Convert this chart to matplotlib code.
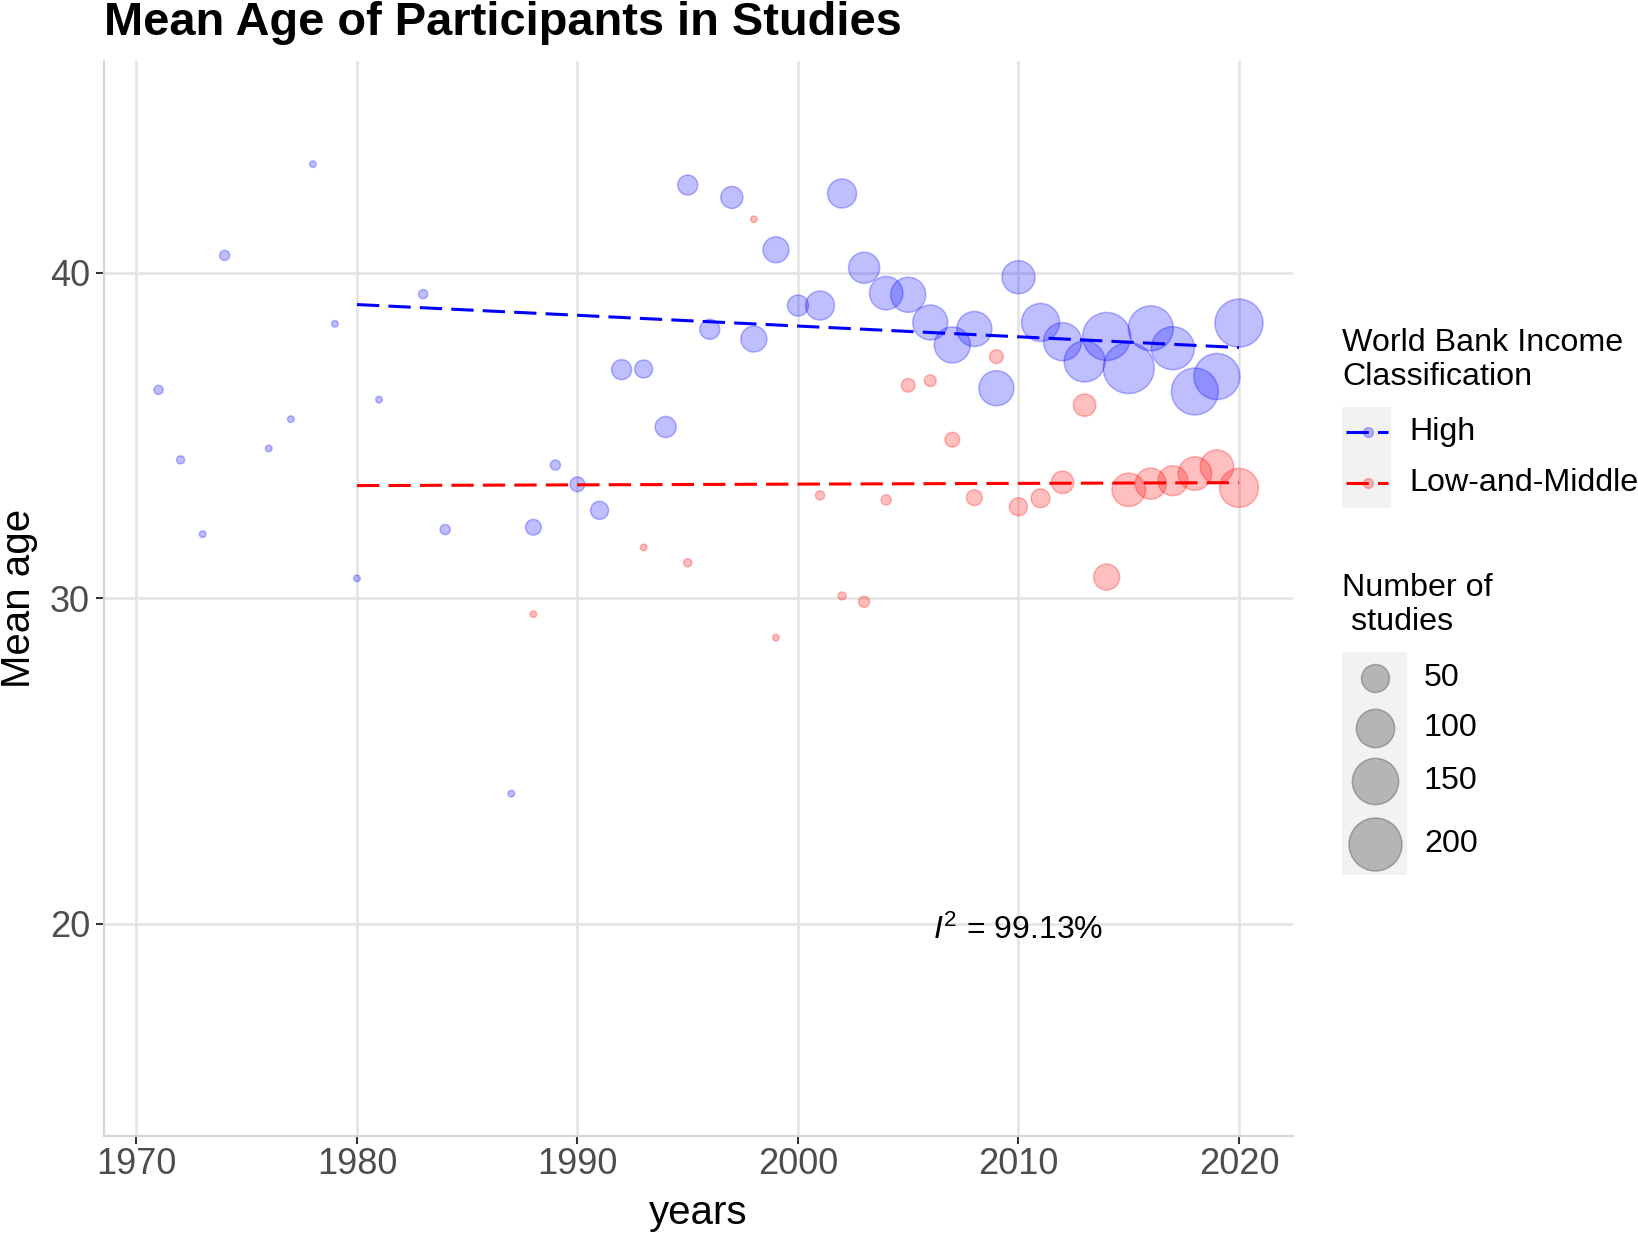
import numpy as np
import matplotlib
matplotlib.use("Agg")
import matplotlib.pyplot as plt
from matplotlib.lines import Line2D
from matplotlib.patches import Rectangle

plt.rcParams["font.family"] = ["Liberation Sans", "DejaVu Sans"]
plt.rcParams["mathtext.fontset"] = "custom"
plt.rcParams["mathtext.rm"] = "Liberation Sans"
plt.rcParams["mathtext.it"] = "Liberation Sans:italic"

# High income studies: year, mean age, number of studies
high_years = [1971, 1972, 1973, 1974, 1976, 1977, 1978, 1979, 1980, 1981,
              1983, 1984, 1987, 1988, 1989, 1990, 1991, 1992, 1993, 1994,
              1995, 1996, 1997, 1998, 1999, 2000, 2001, 2002, 2003, 2004,
              2005, 2006, 2007, 2008, 2009, 2010, 2011, 2012, 2013, 2014,
              2015, 2016, 2017, 2018, 2019, 2020]
high_age = [36.40, 34.25, 31.97, 40.53, 34.60, 35.50, 43.33, 38.43, 30.61, 36.10,
            39.34, 32.11, 24.00, 32.18, 34.09, 33.50, 32.70, 37.02, 37.04, 35.26,
            42.69, 38.26, 42.31, 37.96, 40.70, 38.99, 38.99, 42.43, 40.15, 39.37,
            39.32, 38.47, 37.78, 38.27, 36.45, 39.86, 38.47, 37.88, 37.27, 38.04,
            37.07, 38.29, 37.68, 36.35, 36.81, 38.45]
high_n = [3, 2, 1, 4, 1, 1, 1, 1, 1, 1,
          3, 4, 1, 13, 4, 11, 18, 23, 18, 26,
          23, 23, 29, 42, 42, 26, 54, 54, 63, 74,
          82, 82, 87, 82, 82, 72, 98, 98, 115, 162,
          184, 141, 128, 154, 148, 162]

# Low-and-middle income studies
low_years = [1988, 1993, 1995, 1998, 1999, 2001, 2002, 2003, 2004, 2005,
             2006, 2007, 2008, 2009, 2010, 2011, 2012, 2013, 2014, 2015,
             2016, 2017, 2018, 2019, 2020]
low_age = [29.51, 31.56, 31.09, 41.64, 28.79, 33.16, 30.07, 29.89, 33.02, 36.54,
           36.68, 34.87, 33.09, 37.42, 32.81, 33.07, 33.56, 35.93, 30.65, 33.33,
           33.52, 33.61, 33.83, 34.04, 33.39]
low_n = [1, 1, 2, 1, 1, 3, 2, 5, 4, 9,
         6, 11, 13, 9, 18, 20, 30, 30, 42, 74,
         63, 58, 74, 74, 103]

# fitted meta-regression lines (end points)
trend_years = [1980, 2020]
high_trend = [39.02, 37.70]
low_trend = [33.46, 33.55]

size_breaks = [50, 100, 150, 200]
i2_text = r"$I^2$ = 99.13%"

W, H, DPI = 1638, 1234, 100
BLUE = (0.0, 0.0, 1.0)
RED = (1.0, 0.0, 0.0)
DASHES = (7.3, 3.0)
LEG_FS = 23.2


def marker_area(n):
    """number of studies -> scatter area (pt^2), diameter grows with sqrt(n)"""
    d_px = 3 + 3.54 * np.sqrt(np.asarray(n, dtype=float))
    return (d_px * 72 / DPI) ** 2


def fx(x):
    return x / W


def fy(y):
    return 1 - y / H


fig = plt.figure(figsize=(W / DPI, H / DPI), dpi=DPI)
ax = fig.add_axes([fx(104.5), fy(1135.5), fx(1293) - fx(104.5), fy(61) - fy(1135.5)])

for yrs, age, n, col in [(high_years, high_age, high_n, BLUE), (low_years, low_age, low_n, RED)]:
    ax.scatter(yrs, age, s=marker_area(n), facecolor=(*col, 0.25),
               edgecolor=(*col, 0.28), linewidth=1.1, zorder=3)

ax.plot(trend_years, high_trend, color=BLUE, lw=2.2, dashes=DASHES, zorder=4)
ax.plot(trend_years, low_trend, color=RED, lw=2.2, dashes=DASHES, zorder=4)

ax.text(2010, 19.8, i2_text, ha="center", va="center", fontsize=23, zorder=5)

ax.set_xlim(1968.55, 2022.45)
ax.set_ylim(13.5, 46.5)
ax.set_xticks([1970, 1980, 1990, 2000, 2010, 2020])
ax.set_yticks([20, 30, 40])
ax.grid(True, color="#E3E3E3", lw=1.8, zorder=0)
ax.set_axisbelow(True)
for side in ["top", "right"]:
    ax.spines[side].set_visible(False)
for side in ["left", "bottom"]:
    ax.spines[side].set_color("#D6D6D6")
    ax.spines[side].set_linewidth(1.6)
ax.tick_params(axis="both", length=5.5, width=1.5, color="#333333",
               labelcolor="#4D4D4D", labelsize=26)
ax.tick_params(axis="x", pad=3)
ax.tick_params(axis="y", pad=5)

fig.text(fx(104), fy(35), "Mean Age of Participants in Studies", fontsize=33.8,
         fontweight="bold", ha="left", va="baseline")
fig.text(fx(19), fy(598), "Mean age", rotation=90, fontsize=29, ha="center", va="center")
fig.text(fx(698), fy(1213), "years", fontsize=29, ha="center", va="center")

# colour legend
fig.text(fx(1342), fy(343), "World Bank Income", fontsize=LEG_FS, ha="left", va="center")
fig.text(fx(1342), fy(377), "Classification", fontsize=LEG_FS, ha="left", va="center")
fig.add_artist(Rectangle((fx(1342), fy(508)), fx(1391) - fx(1342), fy(407) - fy(508),
                         transform=fig.transFigure, facecolor="#F2F2F2", edgecolor="none"))
for yc, label, col in [(432, "High", BLUE), (483, "Low-and-Middle", RED)]:
    fig.add_artist(Line2D([fx(1346), fx(1388)], [fy(yc), fy(yc)], transform=fig.transFigure,
                          color=col, lw=2.2, dashes=DASHES))
    fig.add_artist(Line2D([fx(1368)], [fy(yc)], transform=fig.transFigure, marker="o",
                          markersize=7, markerfacecolor=(*col, 0.25),
                          markeredgecolor=(*col, 0.28), markeredgewidth=1.1, linestyle="none"))
    fig.text(fx(1409), fy(yc), label, fontsize=LEG_FS, ha="left", va="center")

# size legend
fig.text(fx(1342), fy(588), "Number of", fontsize=LEG_FS, ha="left", va="center")
fig.text(fx(1342), fy(622), " studies", fontsize=LEG_FS, ha="left", va="center")
fig.add_artist(Rectangle((fx(1342), fy(875)), fx(1407) - fx(1342), fy(652) - fy(875),
                         transform=fig.transFigure, facecolor="#F2F2F2", edgecolor="none"))
size_rows = [678, 728, 781, 844]
for yc, val in zip(size_rows, size_breaks):
    d_pt = np.sqrt(marker_area(val))
    fig.add_artist(Line2D([fx(1375)], [fy(yc)], transform=fig.transFigure, marker="o",
                          markersize=d_pt, markerfacecolor=(0, 0, 0, 0.25),
                          markeredgecolor=(0, 0, 0, 0.25), markeredgewidth=1.1,
                          linestyle="none"))
    fig.text(fx(1424), fy(yc), str(val), fontsize=LEG_FS, ha="left", va="center")

fig.savefig("out.png", dpi=DPI)
